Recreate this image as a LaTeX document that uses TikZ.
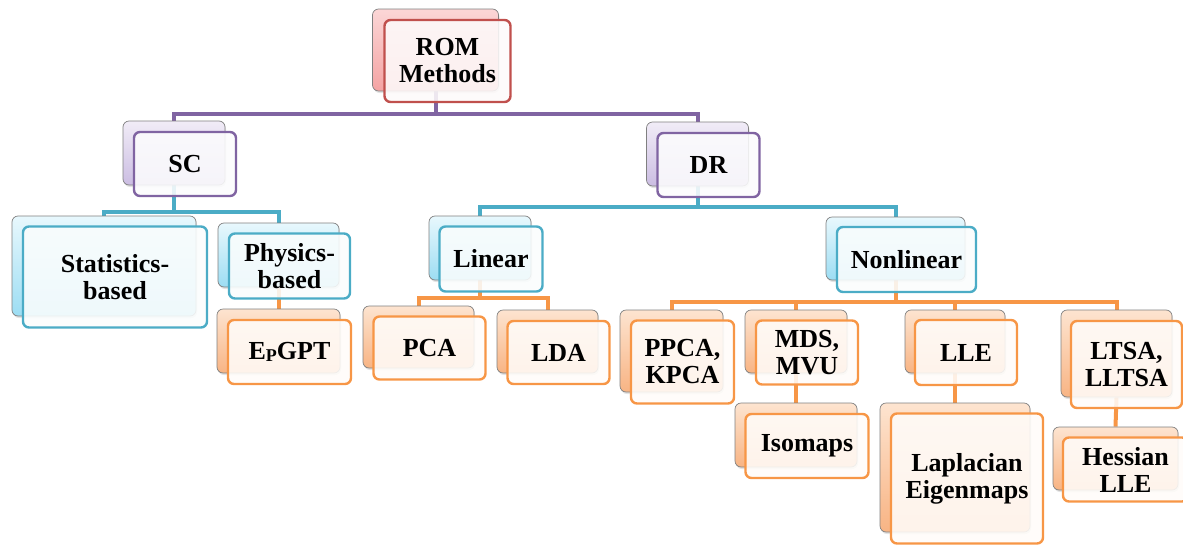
\documentclass[tikz,border=0pt]{standalone}
\usepackage{fontspec}
\setmainfont{Liberation Serif}
\usetikzlibrary{positioning,calc,shadows,backgrounds}
\definecolor{RomRed}{HTML}{C0504D}
\definecolor{ScPurple}{HTML}{8064A2}
\definecolor{DrBlue}{HTML}{4BACC6}
\definecolor{LeafOrange}{HTML}{F79646}
\definecolor{PinkTop}{HTML}{FBD6D6}
\definecolor{PinkBot}{HTML}{F4A3A3}
\definecolor{LilacTop}{HTML}{F1ECF7}
\definecolor{LilacBot}{HTML}{CBBDE2}
\definecolor{CyanTop}{HTML}{E8F8FD}
\definecolor{CyanBot}{HTML}{9CDDF3}
\definecolor{PeachTop}{HTML}{FDE4D0}
\definecolor{PeachBot}{HTML}{F8B484}

\begin{document}
\begin{tikzpicture}[x=1pt,y=-1pt,
    every node/.style={font=\fontsize{26}{27}\selectfont\bfseries,align=center,inner sep=0pt},
    boxsize/.style 2 args={minimum width=#1pt,minimum height=#2pt},
    backbox/.style={draw=black!50,line width=.7pt,rounded corners=6pt,
      drop shadow={opacity=.22,shadow xshift=1pt,shadow yshift=-2pt}},
    frontbox/.style={line width=2.4pt,rounded corners=6pt,fill opacity=.88,text opacity=1},
    redback/.style={backbox,top color=PinkTop,bottom color=PinkBot},
    redfront/.style={frontbox,draw=RomRed,fill=RomRed!3},
    purpleback/.style={backbox,top color=LilacTop,bottom color=LilacBot},
    purplefront/.style={frontbox,draw=ScPurple,fill=ScPurple!2},
    blueback/.style={backbox,top color=CyanTop,bottom color=CyanBot},
    bluefront/.style={frontbox,draw=DrBlue,fill=DrBlue!3},
    orangeback/.style={backbox,top color=PeachTop,bottom color=PeachBot},
    orangefront/.style={frontbox,draw=LeafOrange,fill=LeafOrange!3},
    purplelink/.style={draw=ScPurple,line width=4pt},
    bluelink/.style={draw=DrBlue,line width=4pt},
    orangelink/.style={draw=LeafOrange,line width=4pt}]
  \useasboundingbox (0,0) rectangle (1183,544);

  % root
  \node[redback,boxsize={126}{82}] (rom) at (435.5,50) {};
  \node[redfront,boxsize={126}{82}] (rom-f) at ([shift={(12,11)}]rom.center) {ROM\\Methods};

  % second level
  \node[purpleback,boxsize={102}{64}] (sc) at (174,153) {};
  \node[purplefront,boxsize={102}{64}] (sc-f) at ([shift={(11,11)}]sc.center) {SC};
  \node[purpleback,boxsize={102}{64}] (dr) at (697.5,154) {};
  \node[purplefront,boxsize={102}{64}] (dr-f) at ([shift={(11,11)}]dr.center) {DR};

  % third level
  \node[blueback,boxsize={184}{100}] (stat) at (104,266) {};
  \node[bluefront,boxsize={184}{101}] (stat-f) at ([shift={(11,11)}]stat.center) {Statistics-\\based};
  \node[blueback,boxsize={121}{64}] (phys) at (278.5,255) {};
  \node[bluefront,boxsize={121}{65}] (phys-f) at ([shift={(11,11)}]phys.center) {Physics-\\based};
  \node[blueback,boxsize={102}{64}] (lin) at (480,248) {};
  \node[bluefront,boxsize={103}{65}] (lin-f) at ([shift={(11,11)}]lin.center) {Linear};
  \node[blueback,boxsize={139}{63}] (nonlin) at (895.5,248.5) {};
  \node[bluefront,boxsize={139}{65}] (nonlin-f) at ([shift={(11,11)}]nonlin.center) {Nonlinear};

  % leaves
  \node[orangeback,boxsize={123}{64}] (epgpt) at (278.5,341) {};
  \node[orangefront,boxsize={123}{64}] (epgpt-f) at ([shift={(11,11)}]epgpt.center)
    {E\raisebox{-2pt}{\fontsize{18}{18}\selectfont P}GPT};
  \node[orangeback,boxsize={111}{62}] (pca) at (418.5,337) {};
  \node[orangefront,boxsize={112}{63}] (pca-f) at ([shift={(11,11)}]pca.center) {PCA};
  \node[orangeback,boxsize={101}{63}] (lda) at (547.5,341.5) {};
  \node[orangefront,boxsize={102}{63}] (lda-f) at ([shift={(11,11)}]lda.center) {LDA};
  \node[orangeback,boxsize={103}{82}] (ppca) at (671.5,351) {};
  \node[orangefront,boxsize={103}{83}] (ppca-f) at ([shift={(11,11)}]ppca.center) {PPCA,\\KPCA};
  \node[orangeback,boxsize={102}{63}] (mds) at (796,341.5) {};
  \node[orangefront,boxsize={102}{64}] (mds-f) at ([shift={(11,11)}]mds.center) {MDS,\\MVU};
  \node[orangeback,boxsize={122}{64}] (iso) at (796,435) {};
  \node[orangefront,boxsize={123}{64}] (iso-f) at ([shift={(11,11)}]iso.center) {Isomaps};
  \node[orangeback,boxsize={100}{63}] (lle) at (955,341.5) {};
  \node[orangefront,boxsize={102}{65}] (lle-f) at ([shift={(11,11)}]lle.center) {LLE};
  \node[orangeback,boxsize={150}{129}] (lap) at (955,467.5) {};
  \node[orangefront,boxsize={152}{130}] (lap-f) at ([shift={(12,11)}]lap.center) {Laplacian\\Eigenmaps};
  \node[orangeback,boxsize={111}{87}] (ltsa) at (1116.5,353.5) {};
  \node[orangefront,boxsize={111}{87}] (ltsa-f) at ([shift={(10,11)}]ltsa.center) {LTSA,\\LLTSA};
  \node[orangeback,boxsize={125}{63}] (hess) at (1115.5,458.5) {};
  \node[orangefront,boxsize={125}{64}] (hess-f) at ([shift={(10,11)}]hess.center) {Hessian\\LLE};

  % connectors, behind the boxes
  \begin{scope}[on background layer]
    \draw[purplelink] (rom.south) -- ++(0,23) -| (sc.north);
    \draw[purplelink] (rom.south) -- ++(0,23) -| (dr.north);
    \draw[bluelink] (sc.south) -- ++(0,27) -| (stat.north);
    \draw[bluelink] (sc.south) -- ++(0,27) -| (phys.north);
    \draw[bluelink] (dr.south) -- ++(0,21) -| (lin.north);
    \draw[bluelink] (dr.south) -- ++(0,21) -| (nonlin.north);
    \draw[orangelink] (phys.south) -- (epgpt.north);
    \draw[orangelink] (lin.south) -- ++(0,18) -| (pca.north);
    \draw[orangelink] (lin.south) -- ++(0,18) -| (lda.north);
    \draw[orangelink] (nonlin.south) -- ++(0,22) -| (ppca.north);
    \draw[orangelink] (nonlin.south) -- ++(0,22) -| (mds.north);
    \draw[orangelink] (nonlin.south) -- ++(0,22) -| (lle.north);
    \draw[orangelink] (nonlin.south) -- ++(0,22) -| (ltsa.north);
    \draw[orangelink] (mds.south) -- (iso.north);
    \draw[orangelink] (lle.south) -- (lap.north);
    \draw[orangelink] (ltsa.south) -- (hess.north);
  \end{scope}
\end{tikzpicture}
\end{document}
